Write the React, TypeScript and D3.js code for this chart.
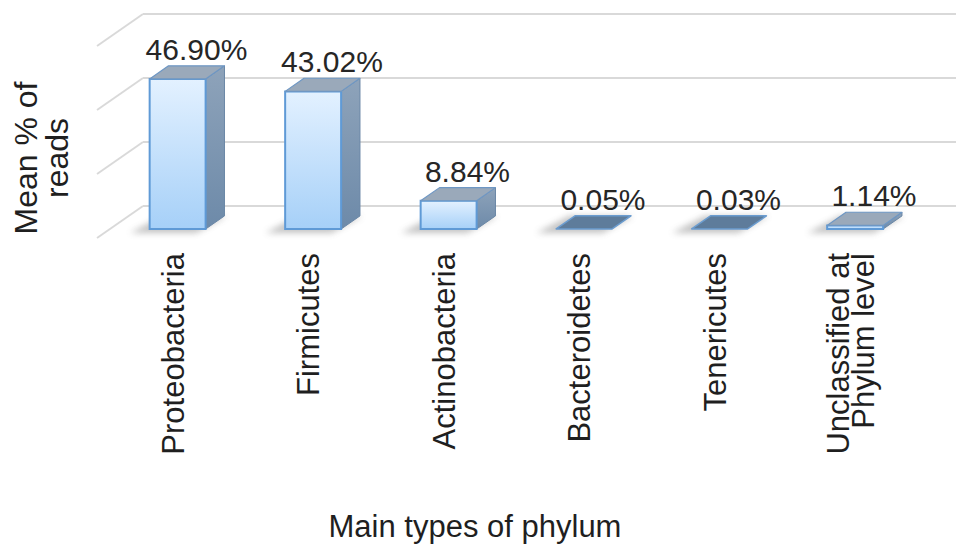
import React from "react";
import * as d3 from "d3";

const categories: string[][] = [
  ["Proteobacteria"],
  ["Firmicutes"],
  ["Actinobacteria"],
  ["Bacteroidetes"],
  ["Tenericutes"],
  ["Unclassified at", "Phylum level"],
];
const values: number[] = [46.9, 43.02, 8.84, 0.05, 0.03, 1.14];
const valueLabels: string[] = ["46.90%", "43.02%", "8.84%", "0.05%", "0.03%", "1.14%"];
const gridTicks: number[] = [0, 20, 40, 60];
const yTitle: string[] = ["Mean % of", "reads"];
const xTitle = "Main types of phylum";

const W = 969;
const H = 556;
const FONT = "'Liberation Sans', Arial, Helvetica, sans-serif";

// oblique projection parameters
const floorFrontY = 238;
const floorLeftX = 97;
const depthDX = 46;
const depthDY = 32;
const zFront = 0.28;
const zBack = 0.69;

export default function App() {
  const keys = categories.map((c) => c.join(" "));
  const xBand = d3
    .scaleBand<string>()
    .domain(keys)
    .range([floorLeftX, floorLeftX + 813])
    .paddingInner(0.587)
    .paddingOuter(0.2935);
  const yScale = d3.scaleLinear().domain([0, 60]).range([0, 192]);

  const proj = (x: number, v: number, z: number): [number, number] => [
    x + z * depthDX,
    floorFrontY - z * depthDY - yScale(v),
  ];
  const poly = (pts: [number, number][]) => pts.map((p) => p.join(",")).join(" ");

  const wallRight = floorLeftX + 813 + depthDX;

  return (
    <svg
      width={W}
      height={H}
      style={{ position: "absolute", left: 0, top: 0, background: "#fff" }}
      fontFamily={FONT}
    >
      <defs>
        <linearGradient id="frontGrad" x1="0" y1="0" x2="0" y2="1">
          <stop offset="0%" stopColor="#e3f1ff" />
          <stop offset="100%" stopColor="#a6d0f8" />
        </linearGradient>
        <linearGradient id="sideGrad" x1="0" y1="0" x2="0" y2="1">
          <stop offset="0%" stopColor="#8ea3ba" />
          <stop offset="100%" stopColor="#6d8aa9" />
        </linearGradient>
        <filter id="shadowBlur" x="-50%" y="-50%" width="200%" height="200%">
          <feGaussianBlur stdDeviation="3" />
        </filter>
      </defs>

      {/* gridlines: back wall + side wall */}
      {gridTicks.map((t) => {
        const [bx, by] = proj(floorLeftX, t, 1);
        const [fx, fy] = proj(floorLeftX, t, 0);
        return (
          <g key={t} stroke="#d9d9d9" strokeWidth={2} fill="none">
            <line x1={bx} y1={by} x2={wallRight} y2={by} />
            <line x1={fx} y1={fy} x2={bx} y2={by} />
          </g>
        );
      })}

      {/* bars */}
      {keys.map((k, i) => {
        const v = values[i];
        const x0 = xBand(k)!;
        const x1 = x0 + xBand.bandwidth();
        const fbl = proj(x0, 0, zFront);
        const fbr = proj(x1, 0, zFront);
        const ftl = proj(x0, v, zFront);
        const ftr = proj(x1, v, zFront);
        const bbr = proj(x1, 0, zBack);
        const btl = proj(x0, v, zBack);
        const btr = proj(x1, v, zBack);
        const flat = yScale(v) < 1;
        const shadow = [
          proj(x0 - 14, 0, zFront - 0.12),
          proj(x1 - 4, 0, zFront - 0.12),
          proj(x1 + 2, 0, zBack),
          proj(x0 - 6, 0, zBack),
        ] as [number, number][];
        return (
          <g key={k}>
            <polygon points={poly(shadow)} fill="#7a7a7a" opacity={0.45} filter="url(#shadowBlur)" />
            {!flat && (
              <polygon
                points={poly([fbr, bbr, btr, ftr])}
                fill="url(#sideGrad)"
                stroke="#6a87a6"
                strokeWidth={1}
              />
            )}
            {!flat && (
              <polygon
                points={poly([fbl, fbr, ftr, ftl])}
                fill="url(#frontGrad)"
                stroke="#5f9ad6"
                strokeWidth={2}
              />
            )}
            <polygon
              points={poly([ftl, ftr, btr, btl])}
              fill={flat ? "#5e7c9b" : "#9aa9ba"}
              stroke={flat ? "#6b9ccf" : "#6e97c4"}
              strokeWidth={flat ? 1.5 : 1.2}
              strokeLinejoin="round"
            />
            <text
              x={(btl[0] + btr[0]) / 2}
              y={btl[1] - 6}
              textAnchor="middle"
              fontSize={30}
              fill="#262626"
            >
              {valueLabels[i]}
            </text>
          </g>
        );
      })}

      {/* category labels */}
      {keys.map((k, i) => {
        const lines = categories[i];
        const cx = proj(xBand(k)! + xBand.bandwidth() / 2, 0, zFront)[0];
        const lineH = 25;
        return lines.map((ln, j) => {
          const bx = cx - 5 + 11 + (j - (lines.length - 1) / 2) * lineH;
          return (
            <text
              key={k + j}
              transform={`translate(${bx},253) rotate(-90)`}
              textAnchor="end"
              fontSize={31}
              fill="#1f1f1f"
            >
              {ln}
            </text>
          );
        });
      })}

      {/* y title */}
      {yTitle.map((ln, j) => (
        <text
          key={ln}
          transform={`translate(${37 + j * 31},158) rotate(-90)`}
          textAnchor="middle"
          fontSize={32}
          fill="#1f1f1f"
        >
          {ln}
        </text>
      ))}

      {/* x title */}
      <text x={475} y={537} textAnchor="middle" fontSize={31} fill="#1f1f1f">
        {xTitle}
      </text>
    </svg>
  );
}
